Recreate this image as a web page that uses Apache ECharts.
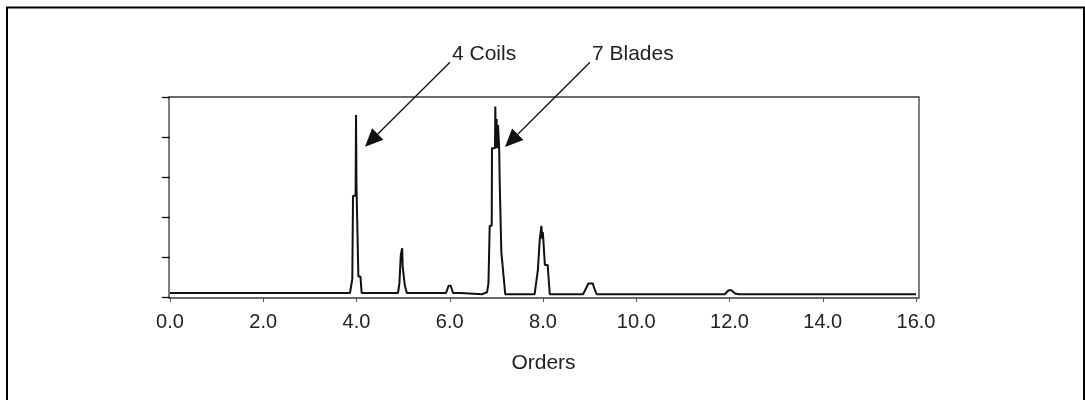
<!DOCTYPE html>
<html>
<head>
<meta charset="utf-8">
<title>Order spectrum</title>
<script src="https://cdn.jsdelivr.net/npm/echarts@6/dist/echarts.min.js"></script>
<style>
  html, body { margin: 0; padding: 0; background: #fff; }
  #chart { width: 1085px; height: 400px; }
</style>
</head>
<body>
<div id="chart"></div>
<script>
'use strict';

// order (x) of each point of the spectrum trace
var orders = [
  0.0, 3.86, 3.91, 3.92, 3.925, 3.98, 3.99, 4.00, 4.035, 4.04, 4.085, 4.11,
  4.89, 4.92, 4.945, 4.95, 4.975, 4.98, 4.99, 5.03, 5.035, 5.06, 5.08,
  5.92, 5.975, 6.02, 6.07, 6.24, 6.27,
  6.69, 6.80, 6.83, 6.85, 6.857, 6.90, 6.906, 6.97, 6.977, 6.99, 7.005, 7.02, 7.035, 7.06, 7.065, 7.07, 7.10, 7.106, 7.145, 7.19,
  7.82, 7.89, 7.925, 7.93, 7.96, 7.965, 7.975, 7.985, 7.995, 8.005, 8.035, 8.04, 8.10, 8.145,
  8.86, 8.95, 8.97, 9.07, 9.09, 9.15,
  11.90, 11.98, 12.04, 12.12, 12.20, 16.0
];
// amplitude at each of those orders
var amplitude = [
  0.10, 0.10, 0.45, 0.45, 2.53, 2.53, 4.55, 2.76, 2.76, 0.51, 0.51, 0.10,
  0.10, 0.34, 0.34, 1.05, 1.05, 1.22, 0.76, 0.76, 0.30, 0.30, 0.10,
  0.10, 0.28, 0.28, 0.10, 0.10, 0.07,
  0.07, 0.12, 0.34, 0.34, 1.78, 1.78, 3.72, 3.72, 4.76, 3.72, 4.45, 3.72, 4.30, 3.72, 3.72, 2.94, 2.94, 1.13, 1.13, 0.07,
  0.07, 0.68, 0.68, 1.43, 1.43, 1.78, 1.78, 1.45, 1.62, 1.47, 1.47, 0.80, 0.80, 0.07,
  0.07, 0.28, 0.34, 0.34, 0.25, 0.07,
  0.07, 0.17, 0.17, 0.09, 0.07, 0.07
];

var xTicks = [0, 2, 4, 6, 8, 10, 12, 14, 16];
var yTicks = [0, 1, 2, 3, 4, 5];

// callouts: text, arrow tail, arrow tip (in order / amplitude units)
var calloutText = ['4 Coils', '7 Blades'];
var calloutTail = [[6.005, 5.87], [9.008, 5.87]];
var calloutTip = [[4.182, 3.7575], [7.185, 3.75]];

var FONT = '"Liberation Sans", Arial, Helvetica, sans-serif';
var INK = '#111';

var myChart = echarts.init(document.getElementById('chart'));

var trace = orders.map(function (o, i) { return [o, amplitude[i]]; });

var hidden = {
  axisLine: { show: false }, axisTick: { show: false },
  axisLabel: { show: false }, splitLine: { show: false }
};

var option = {
  animation: false,
  backgroundColor: '#fff',
  grid: [
    // plot frame + data
    { left: 169, top: 97, width: 750, height: 201, show: true, borderColor: '#3a3a3a', borderWidth: 1.3 },
    // detached ticks a few pixels outside the frame
    { left: 163, top: 97, width: 756, height: 206 }
  ],
  xAxis: [
    Object.assign({ type: 'value', gridIndex: 0, min: -0.0214, max: 16.064 }, hidden),
    {
      type: 'value', gridIndex: 1, min: -0.1501, max: 16.064,
      name: 'Orders', nameLocation: 'middle', nameGap: 50,
      nameTextStyle: { fontSize: 21, fontFamily: FONT, color: '#222', padding: [0, 0, 0, 5] },
      axisLine: { show: false },
      axisTick: { show: true, length: 5, customValues: xTicks, lineStyle: { color: '#555', width: 1 } },
      axisLabel: {
        customValues: xTicks, margin: 9, fontSize: 20, fontFamily: FONT, color: '#222',
        formatter: function (v) { return v.toFixed(1); }
      },
      splitLine: { show: false }
    }
  ],
  yAxis: [
    Object.assign({ type: 'value', gridIndex: 0, min: -0.025, max: 5 }, hidden),
    {
      type: 'value', gridIndex: 1, min: -0.15, max: 5,
      axisLine: { show: false },
      axisTick: { show: true, length: 8, customValues: yTicks, lineStyle: { color: INK, width: 1.3 } },
      axisLabel: { show: false },
      splitLine: { show: false }
    }
  ],
  series: [{
    type: 'line',
    xAxisIndex: 0, yAxisIndex: 0,
    data: trace,
    symbol: 'none',
    showSymbol: false,
    clip: false,
    lineStyle: { color: INK, width: 2 }
  }]
};

myChart.setOption(option);

// callout arrows and texts, placed through the data grid's scales
var HEAD_LEN = 18, HEAD_HALF = 8;
var graphics = [];
calloutText.forEach(function (t, i) {
  var a = myChart.convertToPixel({ gridIndex: 0 }, calloutTail[i]);
  var b = myChart.convertToPixel({ gridIndex: 0 }, calloutTip[i]);
  var dx = a[0] - b[0], dy = a[1] - b[1];
  var len = Math.sqrt(dx * dx + dy * dy);
  var ux = dx / len, uy = dy / len;
  var bx = b[0] + ux * HEAD_LEN, by = b[1] + uy * HEAD_LEN;
  graphics.push({
    type: 'line', silent: true,
    shape: { x1: a[0], y1: a[1], x2: bx, y2: by },
    style: { stroke: INK, lineWidth: 1.3 }
  });
  graphics.push({
    type: 'polygon', silent: true,
    shape: { points: [[b[0], b[1]], [bx - uy * HEAD_HALF, by + ux * HEAD_HALF], [bx + uy * HEAD_HALF, by - ux * HEAD_HALF]] },
    style: { fill: INK }
  });
  graphics.push({
    type: 'text', x: a[0] + 2, y: a[1] - 8, silent: true,
    style: { text: t, fontSize: 21, fontFamily: FONT, fill: '#222', verticalAlign: 'middle' }
  });
});

// outer frame of the figure
graphics.push({
  type: 'rect', silent: true, z: -1,
  shape: { x: 7, y: 7.5, width: 1077, height: 420 },
  style: { fill: 'transparent', stroke: '#000', lineWidth: 2 }
});

myChart.setOption({ graphic: graphics });
</script>
</body>
</html>
